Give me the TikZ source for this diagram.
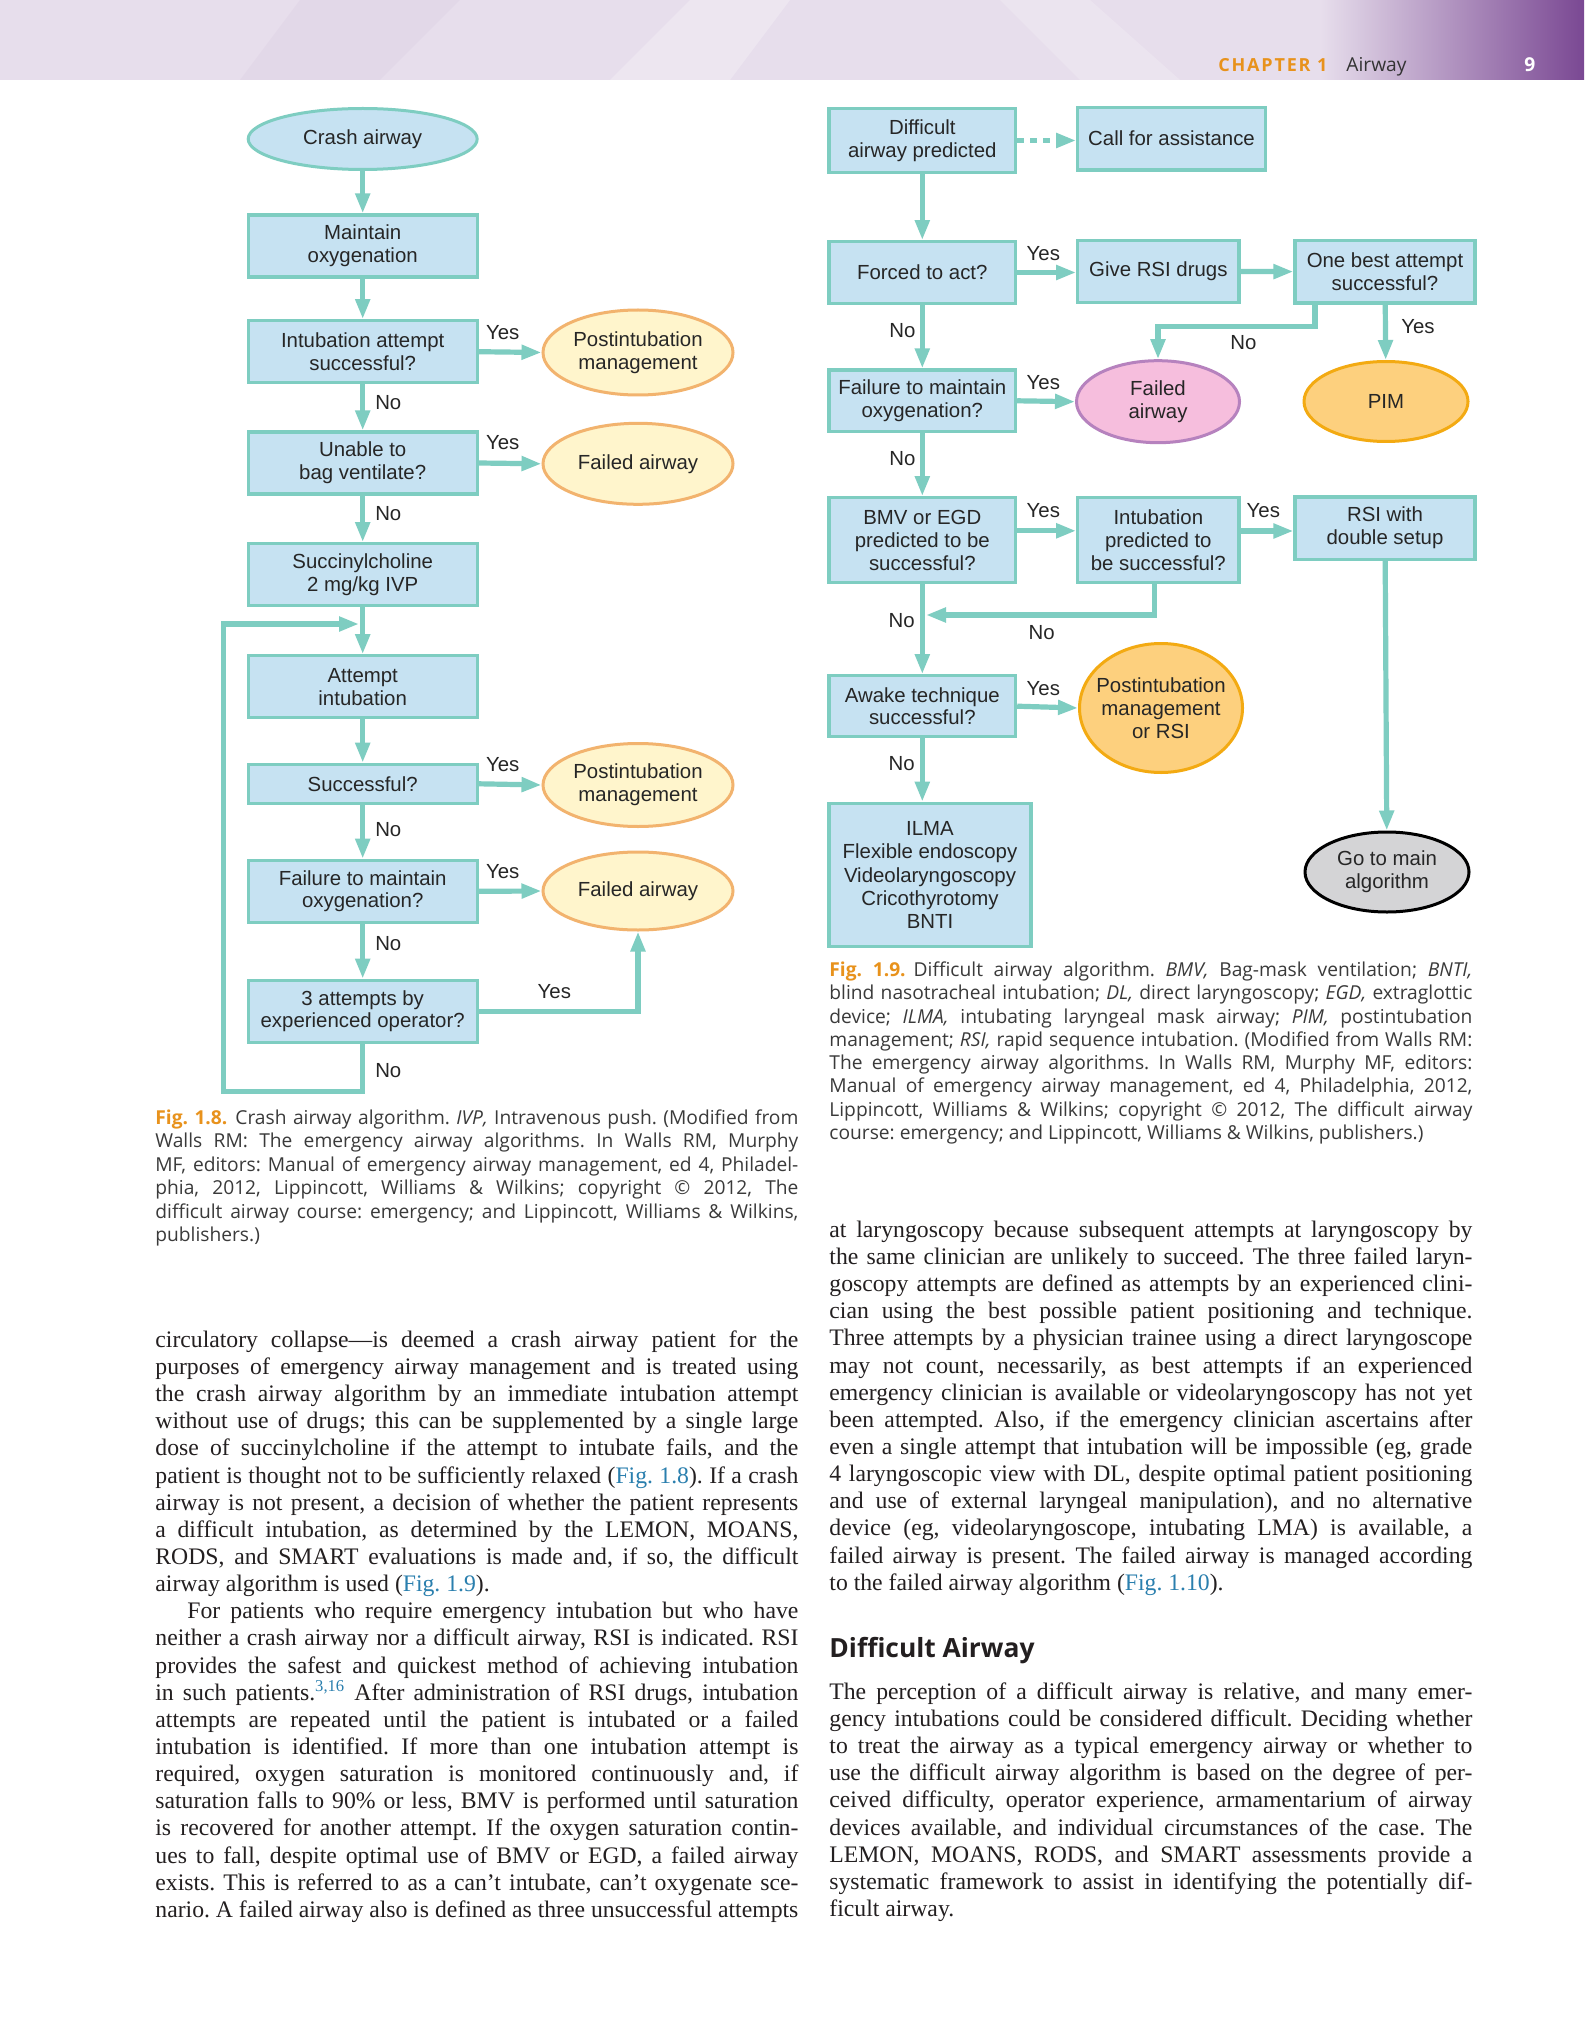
\documentclass[tikz,border=0pt]{standalone}
\usepackage{fontspec}
\setmainfont{Liberation Serif}
\newfontfamily\chartfont{Liberation Sans}
\newfontfamily\capfont{Open Sans}
\newfontfamily\chapfont[LetterSpace=10]{Open Sans}
\usetikzlibrary{arrows.meta,positioning,shapes.geometric}

\definecolor{boxblue}{HTML}{C6E2F2}
\definecolor{tealline}{HTML}{7ECDC1}
\definecolor{pmfill}{HTML}{FFF5CC}
\definecolor{pmdraw}{HTML}{F2B36E}
\definecolor{pinkfill}{HTML}{F6BEDD}
\definecolor{pinkdraw}{HTML}{B682BE}
\definecolor{orfill}{HTML}{FDD07E}
\definecolor{ordraw}{HTML}{F3AA12}
\definecolor{greyfill}{HTML}{D4D4D6}
\definecolor{figorange}{HTML}{E8921C}
\definecolor{reflink}{HTML}{2A7FAE}
\definecolor{bodyink}{HTML}{231F20}
\definecolor{capink}{HTML}{3A3A3A}
\definecolor{lavender}{HTML}{E7DEEC}
\definecolor{plum}{HTML}{7A4893}

\setlength{\parindent}{0pt}
% one justified line of a column (align=left fixes \spaceskip, so set it again here)
\newcommand{\fullline}[1]{\leavevmode\hbox to 321.5pt{\spaceskip=\fontdimen2\font plus 3em minus 0.1em\relax#1}}
\newcommand{\lastline}[1]{\leavevmode\hbox{\spaceskip=\fontdimen2\font\relax#1}}
\newcommand{\jline}[1]{\fullline{#1}\\}
\newcommand{\topstrut}{\rule{0pt}{10pt}}
\newcommand{\figref}[1]{\textcolor{reflink}{#1}}
\newcommand{\figlab}[1]{\textcolor{figorange}{\bfseries #1}\hspace*{4pt}}
\newcommand{\bodyfont}{\fontsize{11.85pt}{13.57pt}\selectfont\frenchspacing}
\newcommand{\capsize}{\capfont\fontsize{9.6pt}{11.75pt}\selectfont\frenchspacing}
\newcommand{\capsizeb}{\capfont\fontsize{9.6pt}{11.65pt}\selectfont\frenchspacing}

\begin{document}
\begin{tikzpicture}[
    x=0.5pt, y=-0.5pt,
    box/.style={
      rectangle, draw=tealline, line width=1.6pt, fill=boxblue, align=center,
      inner sep=0pt, text=black!85, font=\chartfont\fontsize{10.2pt}{11.4pt}\selectfont
    },
    lbox/.style={box, minimum width=114.5pt, minimum height=31pt},
    rbox/.style={box, minimum width=93.3pt, minimum height=30.8pt},
    oval/.style={
      ellipse, line width=1.5pt, align=center, inner sep=0pt,
      text=black!85, font=\chartfont\fontsize{10.2pt}{11.4pt}\selectfont
    },
    pmoval/.style={oval, draw=pmdraw, fill=pmfill, minimum width=95pt},
    lab/.style={inner sep=0pt, text=black!85, font=\chartfont\fontsize{10.2pt}{12pt}\selectfont},
    arrow/.style={-{Triangle[length=10pt,width=7pt]}, line width=2.6pt, draw=tealline},
    dotarrow/.style={arrow, dash pattern=on 3.5pt off 3pt},
    bodytxt/.style={
      anchor=north west, inner sep=0pt, text width=321.5pt, align=left,
      text=bodyink, font=\bodyfont
    },
    captxt/.style={bodytxt, text=capink, font=\capsize}
  ]
    \useasboundingbox (0,0) rectangle (1584,2027);
    \fill[white] (0,0) rectangle (1584,2027);

    % running head
    \fill[lavender] (0,0) rectangle (1584,80);
    \fill[white, opacity=0.25] (690,0) -- (790,0) -- (730,80) -- (610,80) -- cycle;
    \fill[white, opacity=0.2] (1000,0) -- (1090,0) -- (1180,80) -- (1080,80) -- cycle;
    \fill[plum, opacity=0.04] (300,0) -- (460,0) -- (380,80) -- (240,80) -- cycle;
    \shade[left color=lavender, right color=plum] (1320,0) rectangle (1584,80);
    \node[anchor=base west, inner sep=0pt, text=figorange,
      font=\chapfont\bfseries\fontsize{9pt}{12pt}\selectfont] (chap) at (1218,72) {CHAPTER 1};
    \node[anchor=base west, inner sep=0pt, text=black!80,
      font=\capfont\fontsize{9.6pt}{12pt}\selectfont] (chapname) at (1346,72) {Airway};
    \node[anchor=base west, inner sep=0pt, text=white,
      font=\capfont\bfseries\fontsize{9.6pt}{12pt}\selectfont] (pageno) at (1524,72) {9};

    % crash airway algorithm
    \node[oval, draw=tealline, fill=boxblue, minimum width=114.5pt, minimum height=30.5pt] (crash) at (362.7,139) {Crash airway};
    \node[lbox] (maint) at (362.7,246) {Maintain\\oxygenation};
    \node[lbox] (intub) at (362.7,351.7) {Intubation attempt\\successful?};
    \node[lbox] (unable) at (362.7,463) {Unable to\\bag ventilate?};
    \node[lbox] (succ) at (362.7,574.7) {Succinylcholine\\2 mg/kg IVP};
    \node[lbox] (attempt) at (362.7,686.8) {Attempt\\intubation};
    \node[lbox, minimum height=19.5pt] (successq) at (362.7,783.8) {Successful?};
    \node[lbox] (failmaint) at (362.7,891.3) {Failure to maintain\\oxygenation?};
    \node[lbox] (three) at (362.7,1011.3) {3 attempts by\\experienced operator?};
    \node[pmoval, minimum height=42.5pt] (post1) at (638,352.5) {Postintubation\\management};
    \node[pmoval, minimum height=40.5pt] (failed1) at (638,463.8) {Failed airway};
    \node[pmoval, minimum height=41.5pt] (post2) at (638,785) {Postintubation\\management};
    \node[pmoval, minimum height=39pt] (failed2) at (638,891) {Failed airway};
    \coordinate (loopcorner) at (223.3,1091.7);
    \coordinate (loopend) at (359,624);

    \draw[arrow] (crash) -- (maint);
    \draw[arrow] (maint) -- (intub);
    \draw[arrow] (intub) -- (unable);
    \draw[arrow] (unable) -- (succ);
    \draw[arrow] (succ) -- (attempt);
    \draw[arrow] (attempt) -- (successq);
    \draw[arrow] (successq) -- (failmaint);
    \draw[arrow] (failmaint) -- (three);
    \draw[arrow] (intub.east) -- (post1.west);
    \draw[arrow] (unable.east) -- (failed1.west);
    \draw[arrow] (successq.east) -- (post2.west);
    \draw[arrow] (failmaint.east) -- (failed2.west);
    \draw[arrow] (three.east) -| (failed2.south);
    \draw[arrow] (three.south) |- (loopcorner) |- (loopend);

    \node[lab] (yes1) at (502.7,332.3) {Yes};
    \node[lab] (no1) at (388.3,402.7) {No};
    \node[lab] (yes2) at (502.7,442.7) {Yes};
    \node[lab] (no2) at (388.3,513.3) {No};
    \node[lab] (yes3) at (502.7,765) {Yes};
    \node[lab] (no3) at (388.3,830) {No};
    \node[lab] (yes4) at (502.7,871.7) {Yes};
    \node[lab] (no4) at (388.3,943.3) {No};
    \node[lab] (yes5) at (554.3,991.7) {Yes};
    \node[lab] (no5) at (388.3,1071) {No};

    % difficult airway algorithm
    \node[rbox, minimum height=32.2pt] (diff) at (922.3,140.5) {Difficult\\airway predicted};
    \node[box, minimum width=93.8pt, minimum height=31.4pt] (call) at (1171.5,138.7) {Call for assistance};
    \node[rbox] (forced) at (922.3,272.5) {Forced to act?};
    \node[box, minimum width=80.6pt, minimum height=30.8pt] (give) at (1158.3,271.5) {Give RSI drugs};
    \node[box, minimum width=90pt, minimum height=31.4pt] (onebest) at (1385,271.7) {One best attempt\\successful?};
    \node[oval, draw=pinkdraw, fill=pinkfill, minimum width=81.5pt, minimum height=41pt] (failedp) at (1158,401.7) {Failed\\airway};
    \node[oval, draw=ordraw, fill=orfill, minimum width=82pt, minimum height=40pt] (pim) at (1386,401.5) {PIM};
    \node[rbox] (failox) at (922.3,400.8) {Failure to maintain\\oxygenation?};
    \node[rbox, minimum height=42.5pt] (bmv) at (922.3,540.2) {BMV or EGD\\predicted to be\\successful?};
    \node[box, minimum width=80.6pt, minimum height=42.7pt] (intpred) at (1158.3,540) {Intubation\\predicted to\\be successful?};
    \node[box, minimum width=90pt, minimum height=31.1pt] (rsi) at (1385,528.1) {RSI with\\double setup};
    \node[rbox, minimum height=30.5pt] (awake) at (922.3,706.2) {Awake technique\\successful?};
    \node[oval, draw=ordraw, fill=orfill, inner xsep=-4pt, minimum width=81.5pt, minimum height=64.5pt] (postrsi) at (1161,708) {Postintubation\\management\\or RSI};
    \node[box, minimum width=101pt, minimum height=71.7pt, font=\chartfont\fontsize{10.2pt}{11.65pt}\selectfont] (ilma) at (930,875) {ILMA\\Flexible endoscopy\\Videolaryngoscopy\\Cricothyrotomy\\BNTI};
    \node[oval, draw=black, fill=greyfill, minimum width=82pt, minimum height=40pt] (gomain) at (1387,872) {Go to main\\algorithm};
    \coordinate (nobend) at (1158,326.7);
    \coordinate (nojoin) at (926,615);

    \draw[dotarrow] (diff.east) -- (diff.east -| call.west);
    \draw[arrow] (diff) -- (forced);
    \draw[arrow] (forced.east) -- (forced.east -| give.west);
    \draw[arrow] (give) -- (onebest);
    \draw[arrow] (onebest) -- (pim);
    \draw[arrow] ([xshift=-35pt]onebest.south) |- (nobend) -- (failedp.north);
    \draw[arrow] (forced) -- (failox);
    \draw[arrow] (failox.east) -- (failedp.west);
    \draw[arrow] (failox) -- (bmv);
    \draw[arrow] ([yshift=4.7pt]bmv.east) -- ([yshift=4.7pt]bmv.east -| intpred.west);
    \draw[arrow] ([yshift=4.5pt]intpred.east) -- ([yshift=4.5pt]intpred.east -| rsi.west);
    \draw[arrow] ([xshift=-2pt]intpred.south) |- (nojoin);
    \draw[arrow] (bmv) -- (awake);
    \draw[arrow] (awake.east) -- (postrsi.west);
    \draw[arrow] (awake.south) -- (awake.south |- ilma.north);
    \draw[arrow] (rsi) -- (gomain);

    \node[lab] (yesA) at (1043.3,254) {Yes};
    \node[lab] (noA) at (902.3,330.7) {No};
    \node[lab] (yesB) at (1418,327) {Yes};
    \node[lab] (noB) at (1243.3,342.7) {No};
    \node[lab] (yesC) at (1043.3,382.7) {Yes};
    \node[lab] (noC) at (902.3,459) {No};
    \node[lab] (yesD) at (1043.3,510.7) {Yes};
    \node[lab] (yesE) at (1263.3,510.7) {Yes};
    \node[lab] (noD) at (901.7,620.7) {No};
    \node[lab] (noE) at (1041.7,632.7) {No};
    \node[lab] (yesF) at (1043.3,688.3) {Yes};
    \node[lab] (noF) at (901.7,764) {No};

    % captions
    \node[captxt] (capcrash) at (155,1104) {\topstrut\jline{\figlab{Fig. 1.8.}Crash airway algorithm. \textit{IVP,} Intravenous push. (Modified from}
      \jline{Walls RM: The emergency airway algorithms. In Walls RM, Murphy}
      \jline{MF, editors: Manual of emergency airway management, ed 4, Philadel-}
      \jline{phia, 2012, Lippincott, Williams \& Wilkins; copyright © 2012, The}
      \jline{difficult airway course: emergency; and Lippincott, Williams \& Wilkins,}
      \lastline{publishers.)}};
    \node[captxt, font=\capsizeb] (capdiff) at (829,956) {\topstrut\jline{\figlab{Fig. 1.9.}Difficult airway algorithm. \textit{BMV,} Bag-mask ventilation; \textit{BNTI,}}
      \jline{blind nasotracheal intubation; \textit{DL,} direct laryngoscopy; \textit{EGD,} extraglottic}
      \jline{device; \textit{ILMA,} intubating laryngeal mask airway; \textit{PIM,} postintubation}
      \jline{management; \textit{RSI,} rapid sequence intubation. (Modified from Walls RM:}
      \jline{The emergency airway algorithms. In Walls RM, Murphy MF, editors:}
      \jline{Manual of emergency airway management, ed 4, Philadelphia, 2012,}
      \jline{Lippincott, Williams \& Wilkins; copyright © 2012, The difficult airway}
      \lastline{course: emergency; and Lippincott, Williams \& Wilkins, publishers.)}};

    % body text
    \node[bodytxt] (bodyleft) at (155,1327) {\topstrut\jline{circulatory collapse—is deemed a crash airway patient for the}
      \jline{purposes of emergency airway management and is treated using}
      \jline{the crash airway algorithm by an immediate intubation attempt}
      \jline{without use of drugs; this can be supplemented by a single large}
      \jline{dose of succinylcholine if the attempt to intubate fails, and the}
      \jline{patient is thought not to be sufficiently relaxed (\figref{Fig. 1.8}). If a crash}
      \jline{airway is not present, a decision of whether the patient represents}
      \jline{a difficult intubation, as determined by the LEMON, MOANS,}
      \jline{RODS, and SMART evaluations is made and, if so, the difficult}
      \lastline{airway algorithm is used (\figref{Fig. 1.9}).}\\
      \jline{\hspace*{16pt}For patients who require emergency intubation but who have}
      \jline{neither a crash airway nor a difficult airway, RSI is indicated. RSI}
      \jline{provides the safest and quickest method of achieving intubation}
      \jline{in such patients.\textsuperscript{\figref{3,16}} After administration of RSI drugs, intubation}
      \jline{attempts are repeated until the patient is intubated or a failed}
      \jline{intubation is identified. If more than one intubation attempt is}
      \jline{required, oxygen saturation is monitored continuously and, if}
      \jline{saturation falls to 90\% or less, BMV is performed until saturation}
      \jline{is recovered for another attempt. If the oxygen saturation contin-}
      \jline{ues to fall, despite optimal use of BMV or EGD, a failed airway}
      \jline{exists. This is referred to as a can’t intubate, can’t oxygenate sce-}
      \fullline{nario. A failed airway also is defined as three unsuccessful attempts}};

    \node[bodytxt] (bodyright) at (829,1217) {\topstrut\jline{at laryngoscopy because subsequent attempts at laryngoscopy by}
      \jline{the same clinician are unlikely to succeed. The three failed laryn-}
      \jline{goscopy attempts are defined as attempts by an experienced clini-}
      \jline{cian using the best possible patient positioning and technique.}
      \jline{Three attempts by a physician trainee using a direct laryngoscope}
      \jline{may not count, necessarily, as best attempts if an experienced}
      \jline{emergency clinician is available or videolaryngoscopy has not yet}
      \jline{been attempted. Also, if the emergency clinician ascertains after}
      \jline{even a single attempt that intubation will be impossible (eg, grade}
      \jline{4 laryngoscopic view with DL, despite optimal patient positioning}
      \jline{and use of external laryngeal manipulation), and no alternative}
      \jline{device (eg, videolaryngoscope, intubating LMA) is available, a}
      \jline{failed airway is present. The failed airway is managed according}
      \lastline{to the failed airway algorithm (\figref{Fig. 1.10}).}};

    \node[anchor=base west, inner sep=0pt, text=bodyink,
      font=\capfont\bfseries\fontsize{13.2pt}{15pt}\selectfont] (heading) at (829,1657) {Difficult Airway};

    \node[bodytxt] (bodyright2) at (829,1679) {\topstrut\jline{The perception of a difficult airway is relative, and many emer-}
      \jline{gency intubations could be considered difficult. Deciding whether}
      \jline{to treat the airway as a typical emergency airway or whether to}
      \jline{use the difficult airway algorithm is based on the degree of per-}
      \jline{ceived difficulty, operator experience, armamentarium of airway}
      \jline{devices available, and individual circumstances of the case. The}
      \jline{LEMON, MOANS, RODS, and SMART assessments provide a}
      \jline{systematic framework to assist in identifying the potentially dif-}
      \lastline{ficult airway.}};
  \end{tikzpicture}
\end{document}
